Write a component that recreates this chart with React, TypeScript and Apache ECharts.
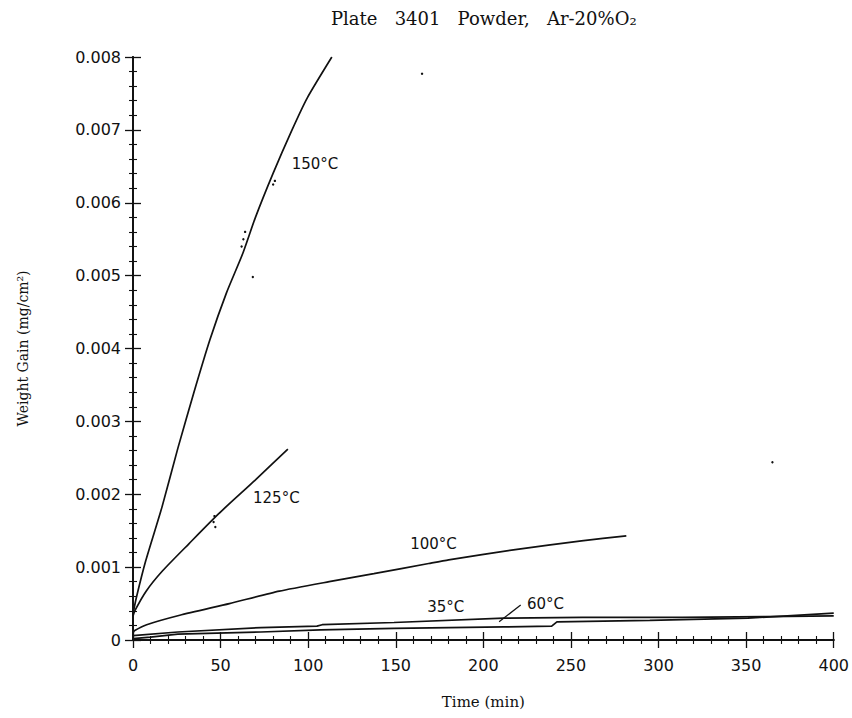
import React, { useEffect, useRef } from "react";
import * as echarts from "echarts";

// ---- data ----
const xTickValues = [0, 50, 100, 150, 200, 250, 300, 350, 400];
const yTickValues = [0, 0.001, 0.002, 0.003, 0.004, 0.005, 0.006, 0.007, 0.008];

const t150 = [0, 1.9, 7.3, 16.5, 25.7, 34.8, 43.9, 53.3, 62.6, 69.9, 79.9, 90.4, 99.5, 113.5];
const w150 = [0.00036, 0.00058, 0.00109, 0.00182, 0.00264, 0.0034, 0.00412, 0.00476, 0.0053, 0.0058, 0.0064, 0.00698, 0.00744, 0.008];

const t125 = [0, 1, 7.5, 16.9, 31.9, 48.8, 69.6, 88.4];
const w125 = [0.00033, 0.0004, 0.00067, 0.00095, 0.00132, 0.00173, 0.00219, 0.00262];

const t100 = [0, 1, 7.8, 26.7, 55, 83.5, 112, 137.5, 168.8, 180.2, 218.2, 256, 281.6];
const w100 = [0.0001, 0.00013, 0.00021, 0.00034, 0.0005, 0.00067, 0.0008, 0.00091, 0.00105, 0.0011, 0.00124, 0.00136, 0.00143];

const t35 = [0, 25.6, 73, 105, 108, 149, 211.7, 256.5, 313.5, 361, 400];
const w35 = [0.00006, 0.00011, 0.00017, 0.00019, 0.00021, 0.00024, 0.0003, 0.00031, 0.00031, 0.00032, 0.00033];

const t60 = [0, 10, 25.6, 73, 107, 149, 211.7, 239, 242, 295, 351, 400];
const w60 = [0.00002, 0.00004, 0.00008, 0.00011, 0.00014, 0.00016, 0.00018, 0.00019, 0.00025, 0.00027, 0.0003, 0.00037];

// stray measurement dots
const dotT = [62, 63, 64, 68.4, 80, 81, 46, 46.5, 47, 165, 365];
const dotW = [0.0054, 0.0055, 0.0056, 0.00498, 0.00625, 0.0063, 0.00162, 0.0017, 0.00155, 0.00777, 0.00244];

// curve annotations
const labelNames = ["150°C", "125°C", "100°C", "35°C", "60°C"];
const labelT = [103.9, 81.8, 171.5, 178.5, 235.5];
const labelW = [0.00653, 0.00195, 0.00132, 0.00045, 0.0005];
const leaderT = [209, 221.3];
const leaderW = [0.00025, 0.00048];

const zip = (a: number[], b: number[]) => a.map((v, i) => [v, b[i]]);

const INK = "#111111";

export default function App() {
  const ref = useRef<HTMLDivElement>(null);

  useEffect(() => {
    if (!ref.current) return;
    const chart = echarts.init(ref.current, undefined, { renderer: "svg" });

    const baseX = {
      type: "value" as const,
      min: xTickValues[0],
      max: xTickValues[xTickValues.length - 1],
      interval: xTickValues[1] - xTickValues[0],
      splitLine: { show: false },
      axisLine: { show: true, lineStyle: { color: INK, width: 1.8 } },
      axisTick: { show: true, inside: true, length: 8, lineStyle: { color: INK, width: 1.3 } },
      minorTick: { show: true, splitNumber: 5, length: 4, lineStyle: { color: INK, width: 1.1 } },
    };
    const baseY = {
      type: "value" as const,
      min: yTickValues[0],
      max: yTickValues[yTickValues.length - 1],
      interval: yTickValues[1] - yTickValues[0],
      splitLine: { show: false },
      axisLine: { show: true, lineStyle: { color: INK, width: 1.8 } },
      axisTick: { show: true, inside: true, length: 8, lineStyle: { color: INK, width: 1.3 } },
      minorTick: { show: true, splitNumber: 5, length: 4, lineStyle: { color: INK, width: 1.1 } },
    };

    const lineSeries = (name: string, t: number[], w: number[], smooth: boolean) => ({
      name,
      type: "line" as const,
      xAxisIndex: 0,
      yAxisIndex: 0,
      data: zip(t, w),
      showSymbol: false,
      symbol: "none",
      smooth: smooth ? 0.2 : false,
      lineStyle: { color: INK, width: 1.7 },
      clip: true,
      z: 3,
    });

    chart.setOption({
      animation: false,
      backgroundColor: "#ffffff",
      title: {
        text: "Plate   3401   Powder,   Ar-20%O₂",
        left: 326,
        top: 4,
        textStyle: { fontFamily: "DejaVu Serif", fontSize: 18, fontWeight: "normal", color: INK },
      },
      grid: { left: 133, right: 16, top: 57, bottom: 78, containLabel: false },
      xAxis: [
        {
          ...baseX,
          position: "bottom",
          name: "Time (min)",
          nameLocation: "middle",
          nameGap: 54,
          nameTextStyle: { fontFamily: "DejaVu Serif", fontSize: 15, color: INK },
          axisLabel: {
            show: true,
            margin: 17,
            fontFamily: "DejaVu Sans",
            fontSize: 16,
            color: INK,
            formatter: (v: number) => String(v),
          },
        },
        { ...baseX, position: "top", axisLabel: { show: false } },
      ],
      yAxis: [
        {
          ...baseY,
          position: "left",
          name: "Weight Gain (mg/cm²)",
          nameLocation: "middle",
          nameGap: 103,
          nameTextStyle: { fontFamily: "DejaVu Serif", fontSize: 14, color: INK },
          axisLabel: {
            show: true,
            margin: 12,
            fontFamily: "DejaVu Sans",
            fontSize: 16,
            color: INK,
            formatter: (v: number) => (v === 0 ? "0" : v.toFixed(3)),
          },
        },
        { ...baseY, position: "right", axisLabel: { show: false } },
      ],
      series: [
        lineSeries("150°C", t150, w150, true),
        lineSeries("125°C", t125, w125, true),
        lineSeries("100°C", t100, w100, true),
        lineSeries("35°C", t35, w35, false),
        lineSeries("60°C", t60, w60, false),
        {
          name: "leader",
          type: "line",
          data: zip(leaderT, leaderW),
          showSymbol: false,
          symbol: "none",
          lineStyle: { color: INK, width: 1.2 },
          z: 3,
        },
        {
          name: "dots",
          type: "scatter",
          data: zip(dotT, dotW),
          symbol: "circle",
          symbolSize: 2.4,
          itemStyle: { color: INK, opacity: 1 },
          z: 3,
        },
        {
          name: "labels",
          type: "scatter",
          data: labelNames.map((n, i) => ({ name: n, value: [labelT[i], labelW[i]] })),
          symbol: "circle",
          symbolSize: 1,
          itemStyle: { color: "rgba(0,0,0,0)", opacity: 1 },
          label: {
            show: true,
            position: "inside",
            formatter: (p: any) => p.name,
            fontFamily: "DejaVu Sans",
            fontSize: 15,
            color: INK,
            opacity: 1,
            textBorderWidth: 0,
          },
          z: 4,
        },
      ],
    });

    return () => chart.dispose();
  }, []);

  return (
    <div
      ref={ref}
      style={{ position: "absolute", left: 0, top: 0, width: 852, height: 718, background: "#fff" }}
    />
  );
}
